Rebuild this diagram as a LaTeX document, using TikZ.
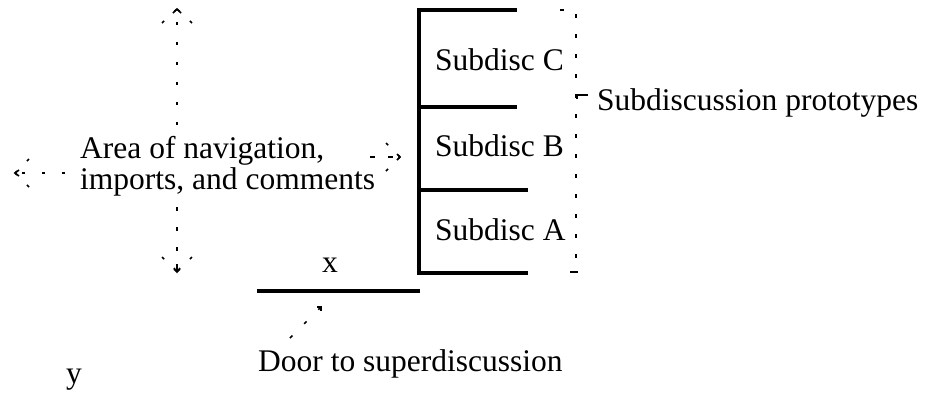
\documentclass[tikz,border=0pt]{standalone}
\usepackage{fontspec}
\setmainfont{Liberation Serif}
\begin{document}
\begin{tikzpicture}[x=1pt,y=-1pt,
  lbl/.style={inner sep=0pt,anchor=base west,font=\fontsize{31.5}{31.5}\selectfont},
  boxline/.style={line width=3.2pt},
  dots/.style={line width=1.6pt,dash pattern=on 3.5pt off 16.5pt},
  wing/.style={line width=1.6pt,dash pattern=on 3pt off 14pt}]
\useasboundingbox (0,0) rectangle (940,397);
% text
\node[lbl] (area1) at (80,158) {Area of navigation,};
\node[lbl] (area2) at (80,189) {imports, and comments};
\node[lbl] (subC) at (435,70) {Subdisc C};
\node[lbl] (subB) at (435,156) {Subdisc B};
\node[lbl] (subA) at (435,240) {Subdisc A};
\node[lbl] (proto) at (597,110) {Subdiscussion prototypes};
\node[lbl] (xl) at (322,272) {x};
\node[lbl] (door) at (258,371) {Door to superdiscussion};
\node[lbl] (yl) at (66,383) {y};
% box stack
\coordinate (bTL) at (419,10);
\coordinate (bBL) at (419,273);
\draw[boxline] (517,10) -- (bTL) -- (bBL) -- (528,273);
\draw[boxline] (419,107) -- (517,107);
\draw[boxline] (419,190) -- (528,190);
% door line
\coordinate (dL) at (257,291);
\coordinate (dR) at (420,291);
\draw[boxline] (dL) -- (dR);
% prototypes bracket
\coordinate (pT) at (576,10);
\coordinate (pB) at (576,272);
\draw[dots] (560,10) -- (pT) -- (pB);
\draw[line width=1.6pt] (570,272) -- (578,272);
\draw[line width=2pt] (577,99) -- (577,95) -- (588,95);
% vertical arrow up
\coordinate (upS) at (177,125);
\coordinate (upT) at (177,9);
\draw[dots] (upS) -- (177,20);
\draw[line width=1.6pt] (173,13) -- (upT) -- (181,13);
\draw[wing] (162,23) -- (upT);
\draw[wing] (192,23) -- (upT);
% vertical arrow down
\coordinate (dnS) at (177,207);
\coordinate (dnT) at (177,272);
\draw[dots] (dnS) -- (177,262);
\draw[line width=1.6pt] (177,264) -- (dnT);
\draw[line width=1.6pt] (174,268) -- (dnT) -- (180,268);
\draw[wing] (162,257) -- (dnT);
\draw[wing] (192,257) -- (dnT);
% left arrow
\coordinate (lS) at (65,173);
\coordinate (lT) at (15,173);
\draw[dots] (lS) -- (lT);
\draw[line width=1.6pt] (19,170) -- (lT) -- (19,176);
\draw[wing] (29,159) -- (lT);
\draw[wing] (29,187) -- (lT);
% right arrow
\coordinate (rS) at (370,157);
\coordinate (rT) at (400,157);
\draw[line width=1.6pt,dash pattern=on 5pt off 13pt] (rS) -- (rT);
\draw[line width=1.6pt] (397,154) -- (rT) -- (397,160);
\draw[wing] (386,143) -- (rT);
\draw[wing] (386,171) -- (rT);
% door arrow
\coordinate (daS) at (290,338);
\coordinate (daT) at (321,307);
\draw[dots] (daS) -- (daT);
\draw[line width=1.6pt] (317,307) -- (daT) -- (321,311);
\end{tikzpicture}
\end{document}
